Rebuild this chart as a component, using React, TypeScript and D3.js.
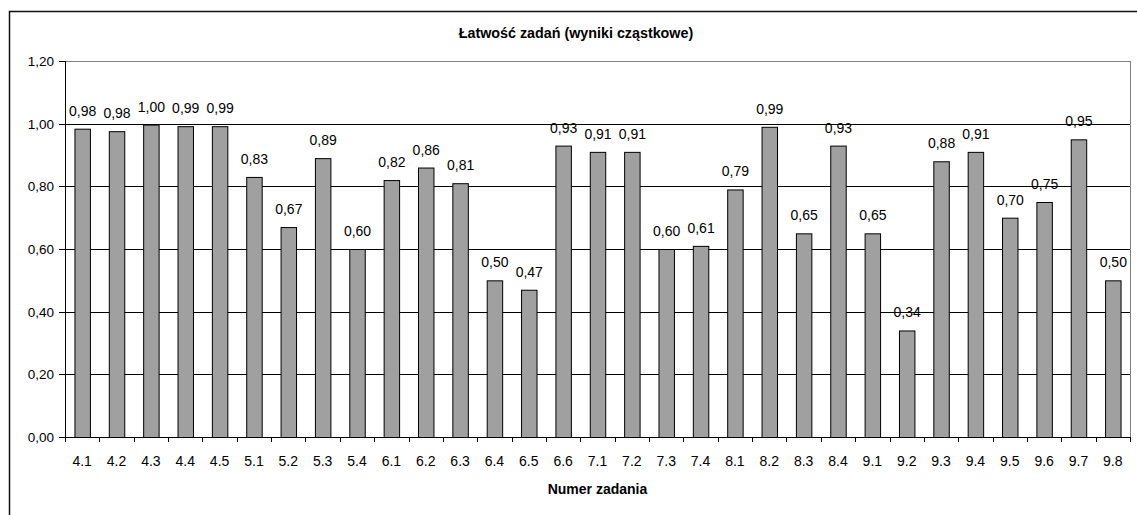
import React from "react";
import * as d3 from "d3";

const categories = [
  "4.1", "4.2", "4.3", "4.4", "4.5",
  "5.1", "5.2", "5.3", "5.4",
  "6.1", "6.2", "6.3", "6.4", "6.5", "6.6",
  "7.1", "7.2", "7.3", "7.4",
  "8.1", "8.2", "8.3", "8.4",
  "9.1", "9.2", "9.3", "9.4", "9.5", "9.6", "9.7", "9.8",
];
const values = [
  0.984, 0.976, 0.997, 0.992, 0.992,
  0.83, 0.67, 0.89, 0.6,
  0.82, 0.86, 0.81, 0.5, 0.47, 0.93,
  0.91, 0.91, 0.6, 0.61,
  0.79, 0.99, 0.65, 0.93,
  0.65, 0.34, 0.88, 0.91, 0.7, 0.75, 0.95, 0.5,
];
const yTicks = [0, 0.2, 0.4, 0.6, 0.8, 1.0, 1.2];
const title = "Łatwość zadań (wyniki cząstkowe)";
const xTitle = "Numer zadania";

const W = 1137;
const H = 515;
const left = 65;
const right = 1130;
const top = 61;
const bottom = 437;
const font = "Arial, 'Liberation Sans', sans-serif";

const fmt = (v: number) => v.toFixed(2).replace(".", ",");

export default function App() {
  const x = d3
    .scaleBand<string>()
    .domain(categories)
    .range([left, right])
    .paddingInner(0.55)
    .paddingOuter(0.275);
  const y = d3.scaleLinear().domain([0, 1.2]).range([bottom, top]);
  const step = x.step();
  const bw = x.bandwidth();
  const half = (step - bw) / 2;
  const boundaries = categories.map((c) => (x(c) as number) - half);
  boundaries.push(right);

  return (
    <svg
      width={W}
      height={H}
      style={{ position: "absolute", left: 0, top: 0, background: "#fff" }}
      fontFamily={font}
    >
      <rect x={0} y={0} width={W} height={H} fill="#fff" />
      {/* outer chart border */}
      <rect x={9.5} y={11.5} width={1134} height={520} fill="none" stroke="#111" strokeWidth={1.5} />
      <text x={576} y={38} textAnchor="middle" fontSize={14.3} fontWeight="bold" fill="#000">
        {title}
      </text>
      {/* gridlines */}
      {yTicks.map((t) => (
        <line
          key={"g" + t}
          x1={left}
          x2={right}
          y1={Math.round(y(t)) + 0.5}
          y2={Math.round(y(t)) + 0.5}
          stroke={t === 1.2 ? "#808080" : "#000"}
          strokeWidth={1}
        />
      ))}
      {/* right plot border */}
      <line x1={right + 0.5} x2={right + 0.5} y1={top} y2={bottom} stroke="#808080" />
      {/* bars */}
      {categories.map((c, i) => (
        <rect
          key={"b" + c}
          x={(x(c) as number) + 0.5}
          y={y(values[i]) + 0.5}
          width={bw}
          height={bottom - y(values[i])}
          fill="#a0a0a0"
          stroke="#000"
          strokeWidth={1}
        />
      ))}
      {/* value labels */}
      {categories.map((c, i) => (
        <text
          key={"v" + c}
          x={(x(c) as number) + bw / 2 + 0.5}
          y={y(values[i]) - 13}
          textAnchor="middle"
          fontSize={14}
          fill="#000"
        >
          {fmt(values[i])}
        </text>
      ))}
      {/* y axis */}
      <line x1={left + 0.5} x2={left + 0.5} y1={top} y2={bottom + 1} stroke="#000" />
      {yTicks.map((t) => (
        <g key={"yt" + t}>
          <line
            x1={left - 6}
            x2={left}
            y1={Math.round(y(t)) + 0.5}
            y2={Math.round(y(t)) + 0.5}
            stroke="#000"
          />
          <text x={54} y={y(t) + 5} textAnchor="end" fontSize={13.5} fill="#000">
            {fmt(t)}
          </text>
        </g>
      ))}
      {/* x axis */}
      <line x1={left} x2={right + 1} y1={bottom + 0.5} y2={bottom + 0.5} stroke="#000" />
      {boundaries.map((b, i) => (
        <line
          key={"xt" + i}
          x1={Math.round(b) + 0.5}
          x2={Math.round(b) + 0.5}
          y1={bottom}
          y2={bottom + 5}
          stroke="#000"
        />
      ))}
      {categories.map((c) => (
        <text
          key={"xl" + c}
          x={(x(c) as number) + bw / 2}
          y={466}
          textAnchor="middle"
          fontSize={14}
          fill="#000"
        >
          {c}
        </text>
      ))}
      <text x={(left + right) / 2} y={494} textAnchor="middle" fontSize={14} fontWeight="bold" fill="#000">
        {xTitle}
      </text>
    </svg>
  );
}
